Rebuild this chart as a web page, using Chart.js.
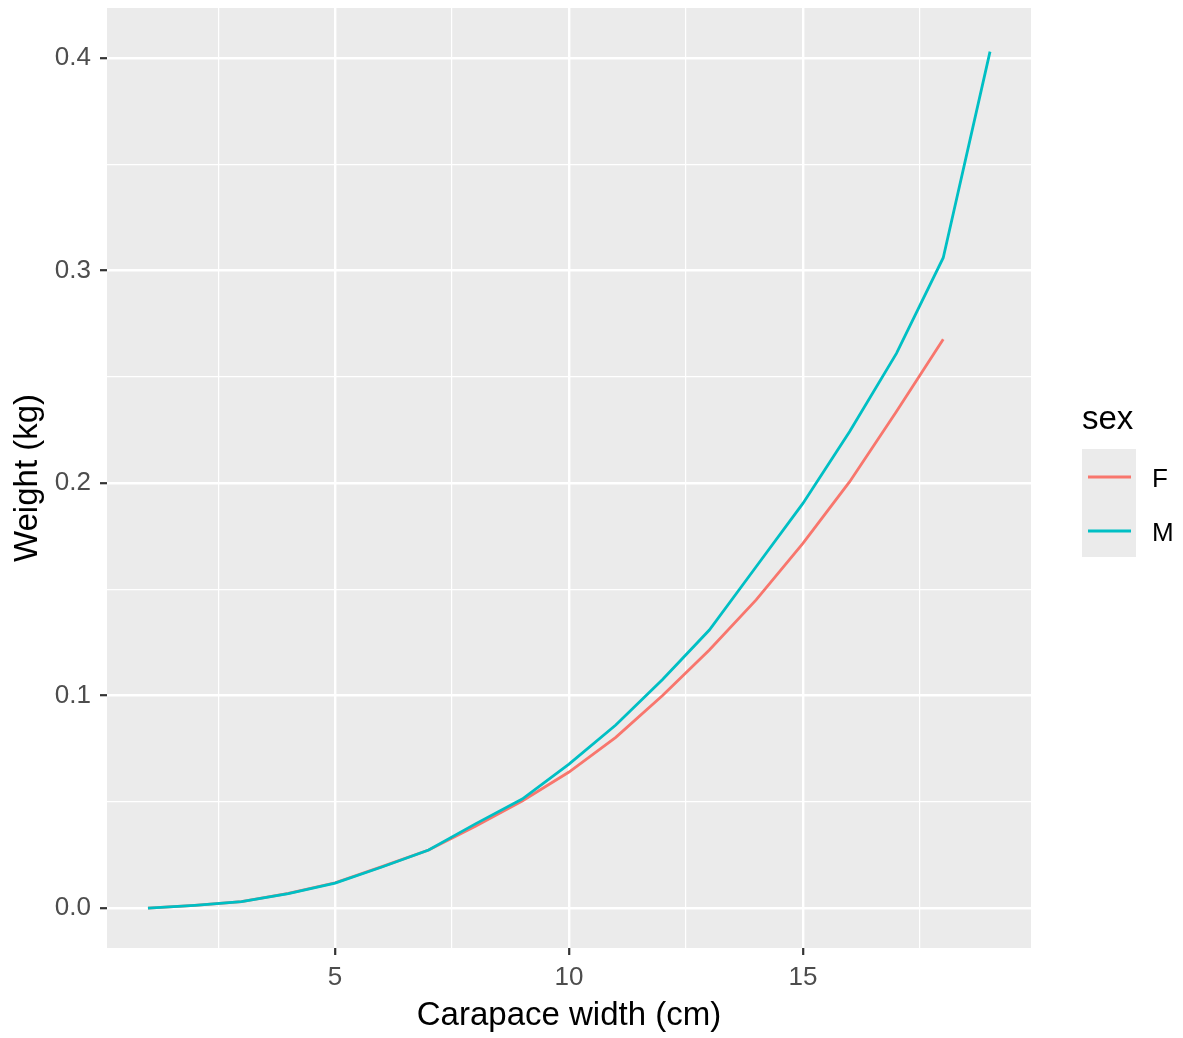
<!DOCTYPE html>
<html>
<head>
<meta charset="utf-8">
<script src="https://cdn.jsdelivr.net/npm/chart.js@4/dist/chart.umd.min.js"></script>
<style>
html,body{margin:0;padding:0;background:#fff;}
#wrap{width:1183px;height:1038px;}
</style>
</head>
<body>
<div id="wrap"><canvas id="c" width="1183" height="1038"></canvas></div>
<script>
// ---- data ----
const widthsF = [1,2,3,4,5,6,7,8,9,10,11,12,13,14,15,16,17,18];
const weightF = [0.000,0.0013,0.0030,0.0069,0.0119,0.0195,0.0273,0.0385,0.0504,0.0640,0.0803,0.1000,0.1214,0.1450,0.1716,0.2006,0.2336,0.2676];
const widthsM = [1,2,3,4,5,6,7,8,9,10,11,12,13,14,15,16,17,18,19];
const weightM = [0.000,0.0013,0.0030,0.0068,0.0117,0.0193,0.0273,0.0396,0.0513,0.0677,0.0861,0.1075,0.1308,0.1606,0.1904,0.2242,0.2610,0.3060,0.4030];
const seriesNames = ['F','M'];
const xMajor = [5,10,15];
const xMinor = [2.5,7.5,12.5,17.5];
const yMajor = [0.0,0.1,0.2,0.3,0.4];
const yMinor = [0.05,0.15,0.25,0.35];
const xTitle = 'Carapace width (cm)';
const yTitle = 'Weight (kg)';
const legendTitle = 'sex';

const colF = '#F8766D', colM = '#00BFC4';
const FONT = "'Liberation Sans', Arial, sans-serif";

const isMajor = (arr, v) => arr.some(m => Math.abs(m - v) < 1e-9);

const panelBg = {
  id: 'panelBg',
  beforeDraw(chart) {
    const {ctx, chartArea: a} = chart;
    ctx.save();
    ctx.fillStyle = '#EBEBEB';
    ctx.fillRect(a.left, a.top, a.right - a.left, a.bottom - a.top);
    ctx.restore();
  }
};

const ggLegend = {
  id: 'ggLegend',
  afterDraw(chart) {
    const ctx = chart.ctx;
    ctx.save();
    ctx.fillStyle = '#000';
    ctx.font = '33px ' + FONT;
    ctx.textBaseline = 'alphabetic';
    ctx.textAlign = 'left';
    ctx.fillText(legendTitle, 1082, 429);
    ctx.fillStyle = '#EBEBEB';
    ctx.fillRect(1082, 449, 54, 108);
    const ys = [477, 531];
    chart.data.datasets.forEach((ds, i) => {
      ctx.strokeStyle = ds.borderColor;
      ctx.lineWidth = 2.8;
      ctx.beginPath();
      ctx.moveTo(1088, ys[i]);
      ctx.lineTo(1131, ys[i]);
      ctx.stroke();
      ctx.fillStyle = '#000';
      ctx.font = '26px ' + FONT;
      ctx.textBaseline = 'alphabetic';
      ctx.fillText(ds.label, 1152, ys[i] + 9.5);
    });
    ctx.restore();
  }
};

new Chart(document.getElementById('c'), {
  type: 'line',
  data: {
    datasets: [
      { label: seriesNames[0], data: widthsF.map((x, i) => ({x, y: weightF[i]})), borderColor: colF, backgroundColor: colF, borderWidth: 2.8, pointRadius: 0, tension: 0, order: 2 },
      { label: seriesNames[1], data: widthsM.map((x, i) => ({x, y: weightM[i]})), borderColor: colM, backgroundColor: colM, borderWidth: 2.8, pointRadius: 0, tension: 0, order: 1 }
    ]
  },
  options: {
    responsive: false,
    devicePixelRatio: 1,
    animation: false,
    layout: { padding: { top: 8, right: 152, left: 0, bottom: 0 } },
    plugins: { legend: { display: false }, tooltip: { enabled: false } },
    scales: {
      x: {
        type: 'linear', position: 'bottom', min: 0.124, max: 19.876,
        afterBuildTicks(s) { s.ticks = xMajor.concat(xMinor).sort((a,b)=>a-b).map(v => ({value: v})); },
        afterFit(s) { s.height = 90; s.paddingLeft = 0; s.paddingRight = 0; },
        border: { display: false },
        grid: {
          color: '#FFFFFF',
          lineWidth: c => isMajor(xMajor, c.tick.value) ? 2.4 : 1.2,
          tickLength: 7,
          tickWidth: 2.2,
          tickColor: c => isMajor(xMajor, c.tick.value) ? '#333333' : 'rgba(0,0,0,0)'
        },
        ticks: {
          autoSkip: false, maxRotation: 0, padding: 7,
          color: '#4D4D4D', font: { family: FONT, size: 26, lineHeight: 1.2 },
          callback: v => isMajor(xMajor, v) ? String(v) : ''
        },
        title: { display: true, text: xTitle, color: '#000', font: { family: FONT, size: 33, lineHeight: 1.2 }, padding: { top: 0, bottom: 2 } }
      },
      y: {
        type: 'linear', position: 'left', min: -0.0188, max: 0.4235,
        afterBuildTicks(s) { s.ticks = yMajor.concat(yMinor).sort((a,b)=>a-b).map(v => ({value: v})); },
        afterFit(s) { s.width = 107; s.paddingTop = 0; s.paddingBottom = 0; },
        border: { display: false },
        grid: {
          color: '#FFFFFF',
          lineWidth: c => isMajor(yMajor, c.tick.value) ? 2.4 : 1.2,
          tickLength: 7,
          tickWidth: 2.2,
          tickColor: c => isMajor(yMajor, c.tick.value) ? '#333333' : 'rgba(0,0,0,0)'
        },
        ticks: {
          autoSkip: false, padding: 9,
          color: '#4D4D4D', font: { family: FONT, size: 26, lineHeight: 1.2 },
          callback: v => isMajor(yMajor, v) ? v.toFixed(1) : ''
        },
        title: { display: true, text: yTitle, color: '#000', font: { family: FONT, size: 33, lineHeight: 1.2 }, padding: { top: 8, bottom: 0 } }
      }
    }
  },
  plugins: [panelBg, ggLegend]
});
</script>
</body>
</html>
